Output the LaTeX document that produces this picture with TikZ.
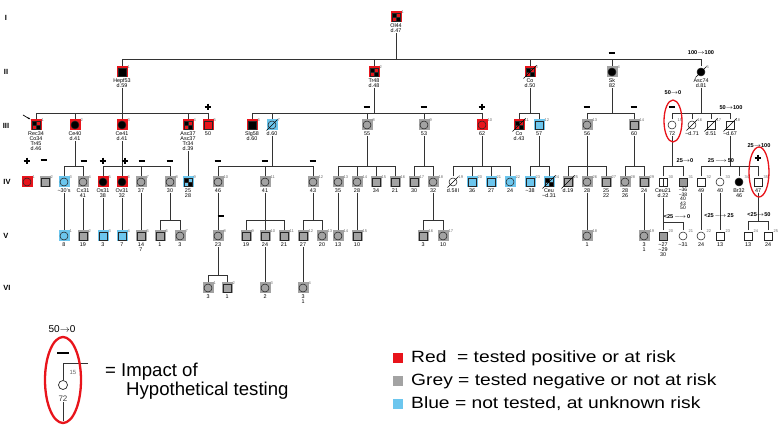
\documentclass[tikz,border=0pt]{standalone}
\usepackage{fontspec}
\usepackage{graphicx}
\setmainfont{Liberation Sans}
\usetikzlibrary{arrows.meta}
\definecolor{pr}{HTML}{E8141B}
\definecolor{pg}{HTML}{A3A3A3}
\definecolor{pb}{HTML}{6CC6EE}
\newcommand\tld{\textasciitilde}
\newcommand\rarr{$\rightarrow$}
\newcommand\lrarr{\,$\longrightarrow$\,}
\tikzset{
 bgbox/.style={rectangle, minimum size=11pt, inner sep=0pt, draw=none},
 sq/.style={rectangle, draw=black!85, line width=0.55pt, minimum size=7.6pt, inner sep=0pt},
 ci/.style={circle, draw=black!85, line width=0.55pt, minimum size=8pt, inner sep=0pt},
 sqF/.style={sq, fill=black},
 ciF/.style={ci, fill=black},
 sqQ/.style={sq, path picture={
   \fill[black] (path picture bounding box.north west) rectangle (path picture bounding box.center);
   \fill[black] (path picture bounding box.south east) rectangle (path picture bounding box.center);
   \draw[line width=0.4pt] (path picture bounding box.north) -- (path picture bounding box.south)
     (path picture bounding box.west) -- (path picture bounding box.east);}},
 sqV/.style={sq, path picture={\draw[line width=0.4pt] (path picture bounding box.north) -- (path picture bounding box.south);}},
 sqG/.style={sq, fill=black!40},
 lab/.style={anchor=north, align=center, inner sep=0.3pt, font=\fontsize{5.4}{5.1}\selectfont},
 numlab/.style={anchor=west, inner sep=0pt, text=black!60, font=\fontsize{4}{4}\selectfont},
 ln/.style={line width=0.8pt, draw=black!80},
 pm/.style={line width=1.8pt, draw=black},
 ann/.style={font=\bfseries\fontsize{5.6}{5.6}\selectfont, inner sep=0pt},
 decl/.style={line width=0.5pt, draw=black},
 ring/.style={draw=pr, line width=1.3pt},
 gen/.style={font=\bfseries\fontsize{7.5}{7.5}\selectfont, inner sep=0pt},
}
\newcommand\pers[7]{%
 \node[bgbox,fill=#5] (#1b) at (#2,#3) {};
 \node[#4] (#1) at (#2,#3) {};
 \node[numlab] at (#2+5.4,#3-5) {#6};
 \node[lab] (#1l) at (#2,#3+6) {#7};
}
\newcommand\decd[1]{\draw[decl] ([shift={(-2.5,2.5)}]#1.south west) -- ([shift={(2.5,-2.5)}]#1.north east);}
\newcommand\pmin[2]{\draw[pm] (#1-3.3,#2) -- (#1+3.3,#2);}
\newcommand\pplus[2]{\draw[pm] (#1-3.3,#2) -- (#1+3.3,#2) (#1,#2-3.3) -- (#1,#2+3.3);}
\begin{document}
\begin{tikzpicture}[x=1pt,y=-1pt]
\useasboundingbox (0,0) rectangle (780,443);
% generation labels
\node[gen] (gI) at (6,18) {I};
\node[gen] (gII) at (6,72) {II};
\node[gen] (gIII) at (6,126) {III};
\node[gen] (gIV) at (7,182) {IV};
\node[gen] (gV) at (6,236) {V};
\node[gen] (gVI) at (7,288) {VI};
% generation I
\pers{a1}{396}{17}{sqQ}{pr}{1}{Ol44\\d.47}
% generation II
\pers{b1}{122}{72}{sqF}{pr}{1}{Hepf53\\d.59}
\pers{b2}{374}{72}{sqQ}{pr}{2}{Tr48\\d.48}
\pers{b3}{530}{72}{sqQ}{pr}{3}{Co\\d.50}
\pers{b4}{612}{72}{ciF}{pg}{4}{Sk\\82}
\pers{b5}{701}{72}{ciF}{none}{5}{Asc74\\d.81}
% generation III
\pers{c1}{36}{125}{sqQ}{pr}{1}{Rec34\\Co34\\Tr45\\d.46}
\pers{c2}{75}{125}{ciF}{pr}{2}{Ce40\\d.41}
\pers{c3}{122}{125}{ciF}{pr}{3}{Ce41\\d.41}
\pers{c4}{188}{125}{sqQ}{pr}{4}{Asc37\\Asc37\\Tr34\\d.39}
\pers{c5}{208}{125}{sq}{pr}{5}{50}
\pers{c6}{252}{125}{sqF}{pr}{6}{Slg58\\d.60}
\pers{c7}{272}{125}{ci}{pb}{7}{d.60}
\pers{c8}{367}{125}{ci}{pg}{8}{55}
\pers{c9}{424}{125}{ci}{pg}{9}{53}
\pers{c10}{482}{125}{ci}{pr}{10}{62}
\pers{c11}{519}{125}{sqQ}{pr}{11}{Co\\d.43}
\pers{c12}{539}{125}{sq}{pb}{12}{57}
\pers{c13}{587}{125}{ci}{pg}{13}{56}
\pers{c14}{634}{125}{sq}{pg}{14}{60}
\pers{c15}{672}{125}{ci}{none}{15}{72}
\pers{c16}{692}{125}{ci}{none}{16}{\tld d.71}
\pers{c17}{711}{125}{sq}{none}{17}{d.51}
\pers{c18}{730}{125}{sq}{none}{18}{\tld d.67}
% generation IV
\pers{d1}{27}{182}{ci}{pr}{1}{}
\pers{d2}{45}{182}{sq}{pg}{2}{}
\pers{d3}{64}{182}{ci}{pb}{3}{\tld 30's}
\pers{d4}{83}{182}{ci}{pg}{4}{Cx31\\41}
\pers{d5}{103}{182}{ciF}{pr}{5}{Os31\\38}
\pers{d6}{122}{182}{ciF}{pr}{6}{Ov31\\32}
\pers{d7}{141}{182}{ci}{pg}{7}{37}
\pers{d8}{170}{182}{ci}{pg}{8}{30}
\pers{d9}{188}{182}{sqQ}{pb}{9}{25\\28}
\pers{d10}{218}{182}{ci}{pg}{10}{46}
\pers{d11}{265}{182}{ci}{pg}{11}{41}
\pers{d12}{313}{182}{ci}{pg}{12}{43}
\pers{d13}{338}{182}{ci}{pg}{13}{35}
\pers{d14}{357}{182}{ci}{pg}{14}{28}
\pers{d15}{376}{182}{sq}{pg}{15}{34}
\pers{d16}{395}{182}{sq}{pg}{16}{21}
\pers{d17}{414}{182}{sq}{pg}{17}{30}
\pers{d18}{433}{182}{ci}{pg}{18}{32}
\pers{d19}{453}{182}{ci}{none}{19}{d.5III}
\pers{d20}{472}{182}{sq}{pb}{20}{36}
\pers{d21}{491}{182}{sq}{pb}{21}{27}
\pers{d22}{510}{182}{ci}{pb}{22}{24}
\pers{d23}{530}{182}{sq}{pb}{23}{\tld 38}
\pers{d24}{549}{182}{sqQ}{pb}{24}{Ceu\\\tld d.31}
\pers{d25}{568}{182}{sq}{pg}{25}{d.19}
\pers{d26}{587}{182}{ci}{pg}{26}{28}
\pers{d27}{606}{182}{sq}{pg}{27}{25\\22}
\pers{d28}{625}{182}{ci}{pg}{28}{28\\26}
\pers{d29}{644}{182}{sq}{pg}{29}{24}
\pers{d30}{663}{182}{sqV}{none}{30}{Ceu21\\d.22}
\node[bgbox,fill=none] (d31b) at (683,182) {};
\node[sqG] (d31) at (683,182) {};
\node[numlab] at (688.4,177) {31};
\node[lab, font=\fontsize{5}{4.4}\selectfont] (d31l) at (683,188) {\tld 36\\\tld 38\\40\\43\\50};
\pers{d32}{701}{182}{sq}{none}{32}{49}
\pers{d33}{720}{182}{ci}{none}{33}{40}
\pers{d34}{739}{182}{ciF}{none}{34}{Br32\\46}
\pers{d35}{758}{182}{sq}{none}{35}{47}
% generation V
\pers{e1}{64}{236}{ci}{pb}{1}{8}
\pers{e2}{83}{236}{sq}{pg}{2}{19}
\pers{e3}{103}{236}{sq}{pb}{3}{3}
\pers{e4}{122}{236}{sq}{pb}{4}{7}
\pers{e5}{141}{236}{sq}{pg}{5}{14\\7}
\pers{e6}{160}{236}{sq}{pg}{6}{1}
\pers{e7}{180}{236}{ci}{pg}{7}{3}
\pers{e8}{218}{236}{ci}{pg}{8}{23}
\pers{e9}{246}{236}{sq}{pg}{9}{19}
\pers{e10}{265}{236}{sq}{pg}{10}{24}
\pers{e11}{284}{236}{sq}{pg}{11}{21}
\pers{e12}{303}{236}{sq}{pg}{12}{27}
\pers{e13}{322}{236}{ci}{pg}{13}{20}
\pers{e14}{338}{236}{ci}{pg}{14}{13}
\pers{e15}{357}{236}{sq}{pg}{15}{10}
\pers{e16}{423}{236}{sq}{pg}{16}{3}
\pers{e17}{443}{236}{ci}{pg}{17}{10}
\pers{e18}{587}{236}{ci}{pg}{18}{1}
\pers{e19}{644}{236}{ci}{pg}{19}{3\\1}
\pers{e20}{663}{236}{sqG}{none}{20}{\tld 27\\\tld 29\\30}
\pers{e21}{683}{236}{ci}{none}{21}{\tld 31}
\pers{e22}{701}{236}{ci}{none}{22}{24}
\pers{e23}{720}{236}{sq}{none}{23}{13}
\pers{e24}{748}{236}{sq}{none}{24}{13}
\pers{e25}{768}{236}{sq}{none}{25}{24}
% generation VI
\pers{f1}{208}{288}{ci}{pg}{1}{3}
\pers{f2}{227}{288}{sq}{pg}{2}{1}
\pers{f3}{265}{288}{ci}{pg}{3}{2}
\pers{f4}{303}{288}{ci}{pg}{4}{3\\1}
% deceased marks
\foreach \p in {b3,b5,c7,c11,c16,c17,c18,d19,d24,d25} {\decd{\p}}
% proband arrow
\coordinate (parr) at (23,115);
\draw[-{Stealth[length=2.6pt]}, line width=0.7pt] (parr) -- (c1b.north west);
% sibship coordinates
\coordinate (sA) at (396,59);
\coordinate (sB1) at (122,113);
\coordinate (sB2) at (374,113);
\coordinate (sB3) at (530,113);
\coordinate (sB4) at (612,113);
\coordinate (sB5) at (701,113);
\coordinate (sC2) at (75,166);
\coordinate (sC3) at (122,166);
\coordinate (sC7) at (272,166);
\coordinate (sC8) at (367,166);
\coordinate (sC9) at (424,166);
\coordinate (sC10) at (482,166);
\coordinate (sC12) at (539,166);
\coordinate (sC13) at (587,166);
\coordinate (sC14) at (634,166);
\coordinate (sC15) at (672,166);
\coordinate (sC18) at (730,166);
\coordinate (sD8) at (170,220);
\coordinate (sD11) at (265,220);
\coordinate (sD12) at (313,220);
\coordinate (sD18) at (433,220);
\coordinate (sD30) at (663,222);
\coordinate (sD35) at (758,221);
\coordinate (sE8) at (218,275);
% I -> II
\draw[ln] (a1l.south) -- (sA);
\foreach \c in {b1,b2,b3,b4,b5} {\draw[ln] (\c b.north) |- (sA);}
% II -> III
\draw[ln] (b1l.south) -- (sB1);
\foreach \c in {c1,c2,c3,c4,c5} {\draw[ln] (\c b.north) |- (sB1);}
\draw[ln] (b2l.south) -- (sB2);
\foreach \c in {c6,c7,c8,c9,c10} {\draw[ln] (\c b.north) |- (sB2);}
\draw[ln] (b3l.south) -- (sB3);
\foreach \c in {c11,c12} {\draw[ln] (\c b.north) |- (sB3);}
\draw[ln] (b4l.south) -- (sB4);
\foreach \c in {c13,c14} {\draw[ln] (\c b.north) |- (sB4);}
\draw[ln] (b5l.south) -- (sB5);
\foreach \c in {c15,c16,c17,c18} {\draw[ln] (\c b.north) |- (sB5);}
% III -> IV
\draw[ln] (c2l.south) -- (sC2);
\foreach \c in {d3,d4} {\draw[ln] (\c b.north) |- (sC2);}
\draw[ln] (c3l.south) -- (sC3);
\foreach \c in {d5,d6,d7,d8} {\draw[ln] (\c b.north) |- (sC3);}
\draw[ln] (c4l.south) -- (d9b.north);
\draw[ln] (c7l.south) -- (sC7);
\foreach \c in {d10,d11,d12} {\draw[ln] (\c b.north) |- (sC7);}
\draw[ln] (c8l.south) -- (sC8);
\foreach \c in {d13,d14,d15,d16} {\draw[ln] (\c b.north) |- (sC8);}
\draw[ln] (c9l.south) -- (sC9);
\foreach \c in {d17,d18} {\draw[ln] (\c b.north) |- (sC9);}
\draw[ln] (c10l.south) -- (sC10);
\foreach \c in {d19,d20,d21,d22} {\draw[ln] (\c b.north) |- (sC10);}
\draw[ln] (c12l.south) -- (sC12);
\foreach \c in {d23,d24} {\draw[ln] (\c b.north) |- (sC12);}
\draw[ln] (c13l.south) -- (sC13);
\foreach \c in {d25,d26,d27} {\draw[ln] (\c b.north) |- (sC13);}
\draw[ln] (c14l.south) -- (sC14);
\foreach \c in {d28,d29} {\draw[ln] (\c b.north) |- (sC14);}
\draw[ln] (c15l.south) -- (sC15);
\foreach \c in {d30,d31} {\draw[ln] (\c b.north) |- (sC15);}
\draw[ln] (c18l.south) -- (sC18);
\foreach \c in {d32,d33,d34,d35} {\draw[ln] (\c b.north) |- (sC18);}
% IV -> V
\draw[ln] (d3l.south) -- (e1b.north);
\draw[ln] (d4l.south) -- (e2b.north);
\draw[ln] (d5l.south) -- (e3b.north);
\draw[ln] (d6l.south) -- (e4b.north);
\draw[ln] (d7l.south) -- (e5b.north);
\draw[ln] (d8l.south) -- (sD8);
\foreach \c in {e6,e7} {\draw[ln] (\c b.north) |- (sD8);}
\draw[ln] (d10l.south) -- (e8b.north);
\draw[ln] (d11l.south) -- (sD11);
\foreach \c in {e9,e10,e11} {\draw[ln] (\c b.north) |- (sD11);}
\draw[ln] (d12l.south) -- (sD12);
\foreach \c in {e12,e13} {\draw[ln] (\c b.north) |- (sD12);}
\draw[ln] (d13l.south) -- (e14b.north);
\draw[ln] (d14l.south) -- (e15b.north);
\draw[ln] (d18l.south) -- (sD18);
\foreach \c in {e16,e17} {\draw[ln] (\c b.north) |- (sD18);}
\draw[ln] (d26l.south) -- (e18b.north);
\draw[ln] (d29l.south) -- (e19b.north);
\draw[ln] (d30l.south) -- (sD30);
\foreach \c in {e20,e21} {\draw[ln] (\c b.north) |- (sD30);}
\draw[ln] (d32l.south) -- (e22b.north);
\draw[ln] (d33l.south) -- (e23b.north);
\draw[ln] (d35l.south) -- (sD35);
\foreach \c in {e24,e25} {\draw[ln] (\c b.north) |- (sD35);}
% V -> VI
\draw[ln] (e8l.south) -- (sE8);
\foreach \c in {f1,f2} {\draw[ln] (\c b.north) |- (sE8);}
\draw[ln] (e10l.south) -- (f3b.north);
\draw[ln] (e12l.south) -- (f4b.north);
% plus / minus marks
\pmin{612}{53}
\pplus{208}{107} \pmin{367}{107} \pmin{424}{107} \pplus{482}{107}
\pmin{587}{107} \pmin{634}{107} \pmin{672}{107}
\pplus{27}{161} \pmin{44}{160} \pmin{84}{161} \pplus{103}{161} \pplus{125}{161}
\pmin{142}{161} \pmin{170}{161} \pmin{218}{161} \pmin{265}{161} \pmin{313}{161}
\pplus{758}{158}
\pmin{221}{216}
% risk annotations
\node[ann] (t1) at (701,53) {100\rarr100};
\node[ann] (t2) at (673,93) {50\rarr0};
\node[ann] (t3) at (731,108) {50\rarr100};
\node[ann] (t4) at (685,161) {25\rarr0};
\node[ann] (t5) at (721,161) {25\lrarr50};
\node[ann] (t6) at (759,146) {25\rarr100};
\node[ann] (t7) at (677,216.5) {<25\lrarr0};
\node[ann] (t8) at (719,216) {<25\lrarr25};
\node[ann] (t9) at (759,215) {<25\rarr50};
% red rings
\draw[ring] (673,121) ellipse (9 and 21);
\draw[ring] (759,172) ellipse (10 and 25);
% legend left
\node[font=\fontsize{10}{10}\selectfont, inner sep=0pt] (l50) at (62,329) {50\rarr0};
\draw[line width=2.4pt] (57,353) -- (69,353);
\node[ci, minimum size=9pt, line width=0.7pt] (lc) at (63,385) {};
\coordinate (lcA) at (88,363);
\coordinate (lcB) at (63,363);
\draw[ln] (lcA) -- (lcB) -- (lc.north);
\node[text=black!60, font=\fontsize{6}{6}\selectfont, inner sep=0pt] (l15) at (73,372) {15};
\node[text=black!75, font=\fontsize{8}{8}\selectfont, inner sep=0.5pt] (l72) at (63,399) {72};
\coordinate (lend) at (63,421);
\draw[ln] (l72.south) -- (lend);
\draw[ring, line width=2.3pt] (63,380) ellipse (18 and 43);
\node[anchor=west, font=\fontsize{18.6}{18.6}\selectfont, inner sep=0pt] (li1) at (105,372) {= Impact of};
\node[anchor=west, font=\fontsize{18.6}{18.6}\selectfont, inner sep=0pt] (li2) at (126,391) {Hypothetical testing};
% legend right
\node[fill=pr, minimum width=9.4pt, minimum height=10.4pt, inner sep=0pt] (kr) at (398,358) {};
\node[fill=pg, minimum width=9.4pt, minimum height=10.4pt, inner sep=0pt] (kg) at (398,381) {};
\node[fill=pb, minimum width=9.4pt, minimum height=10.4pt, inner sep=0pt] (kb) at (398,404) {};
\node[anchor=west, font=\fontsize{16.3}{16.3}\selectfont, inner sep=0pt] (tr) at (411,358) {\scalebox{1.18}[1]{Red\ \ = tested positive or at risk}};
\node[anchor=west, font=\fontsize{16.3}{16.3}\selectfont, inner sep=0pt] (tg) at (411,381) {\scalebox{1.18}[1]{Grey = tested negative or not at risk}};
\node[anchor=west, font=\fontsize{16.3}{16.3}\selectfont, inner sep=0pt] (tb) at (411,404) {\scalebox{1.18}[1]{Blue = not tested, at unknown risk}};
\end{tikzpicture}
\end{document}
